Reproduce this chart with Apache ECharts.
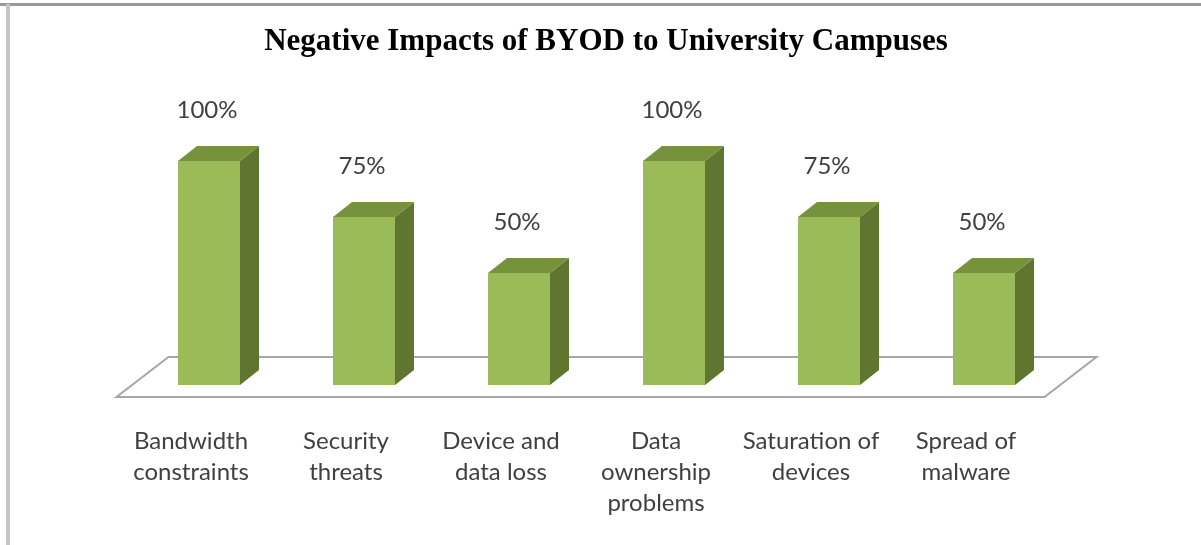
<!DOCTYPE html>
<html>
<head>
<meta charset="utf-8">
<script src="https://cdn.jsdelivr.net/npm/echarts@6/dist/echarts.min.js"></script>
<style>
  html, body { margin: 0; padding: 0; background: #ffffff; }
  #chart { width: 1201px; height: 545px; }
</style>
</head>
<body>
<div id="chart"></div>
<script>
// Survey results: share of respondents naming each negative impact
const categories = [
  'Bandwidth\nconstraints',
  'Security\nthreats',
  'Device and\ndata loss',
  'Data\nownership\nproblems',
  'Saturation of\ndevices',
  'Spread of\nmalware'
];
const values = [100, 75, 50, 100, 75, 50];
const valueLabels = ['100%', '75%', '50%', '100%', '75%', '50%'];
const chartTitle = 'Negative Impacts of BYOD to University Campuses';

const FRONT = '#9BBB59';
const TOP = '#76923C';
const SIDE = '#5F7530';
const DEPTH_X = 19, DEPTH_Y = -15;

const chart = echarts.init(document.getElementById('chart'), null, { renderer: 'canvas' });

// Column drawn as a 3D box: front face, top face and right side face
function renderBox(params, api) {
  const idx = api.value(0);
  const base = api.coord([idx, 0]);
  const top = api.coord([idx, api.value(1)]);
  const band = api.size([1, 0])[0];
  const w = band * 0.4;
  const x0 = base[0] - w / 2, x1 = base[0] + w / 2;
  const yb = base[1], yt = top[1];
  return {
    type: 'group',
    children: [
      { type: 'polygon', shape: { points: [[x1, yb], [x1 + DEPTH_X, yb + DEPTH_Y], [x1 + DEPTH_X, yt + DEPTH_Y], [x1, yt]] },
        style: { fill: SIDE } },
      { type: 'polygon', shape: { points: [[x0, yt], [x1, yt], [x1 + DEPTH_X, yt + DEPTH_Y], [x0 + DEPTH_X, yt + DEPTH_Y]] },
        style: { fill: TOP } },
      { type: 'rect', shape: { x: x0, y: yt, width: w, height: yb - yt },
        style: { fill: FRONT } },
      { type: 'text', x: base[0] - 2, y: yt - 51,
        style: { text: valueLabels[params.dataIndex], fill: '#404040', font: '24px Lato',
                 align: 'center', verticalAlign: 'middle' } }
    ]
  };
}

// Floor plane under the columns
function renderFloor(params, api) {
  const cs = params.coordSys;
  const L = cs.x, R = cs.x + cs.width, yb = cs.y + cs.height;
  const fl = [L - 15, yb + 12], fr = [R - 17, yb + 12];
  const br = [fr[0] + 52, fr[1] - 40], bl = [fl[0] + 52, fl[1] - 40];
  return {
    type: 'polygon',
    shape: { points: [fl, fr, br, bl] },
    style: { fill: '#ffffff', stroke: '#a6a6a6', lineWidth: 2 }
  };
}

const option = {
  backgroundColor: '#ffffff',
  animation: false,
  grid: { left: 131.5, right: 139.5, top: 161, bottom: 160 },
  xAxis: {
    type: 'category',
    data: categories,
    axisLine: { show: false },
    axisTick: { show: false },
    axisLabel: {
      margin: 41,
      interval: 0,
      color: '#404040',
      fontFamily: 'Lato',
      fontSize: 24,
      lineHeight: 31,
      verticalAlign: 'top',
      padding: [0, 36, 0, 0]
    }
  },
  yAxis: {
    type: 'value', min: 0, max: 100, interval: 25,
    show: false
  },
  graphic: [
    { type: 'rect', shape: { x: 0, y: 3, width: 1201, height: 3 }, style: { fill: '#9a9a9a' }, z: 10 },
    { type: 'rect', shape: { x: 6, y: 4, width: 4, height: 541 }, style: { fill: '#c4c4c4' }, z: 10 },
    { type: 'text', x: 606, y: 42, z: 10,
      style: { text: chartTitle, fill: '#000000', font: 'bold 31px "Liberation Serif"',
               align: 'center', verticalAlign: 'middle' } }
  ],
  series: [
    { type: 'custom', renderItem: renderFloor, data: [[0, 0]], z: 1, silent: true },
    { type: 'custom', renderItem: renderBox, data: values.map((v, i) => [i, v]), z: 2,
      encode: { x: 0, y: 1 } }
  ]
};
chart.setOption(option);
</script>
</body>
</html>
